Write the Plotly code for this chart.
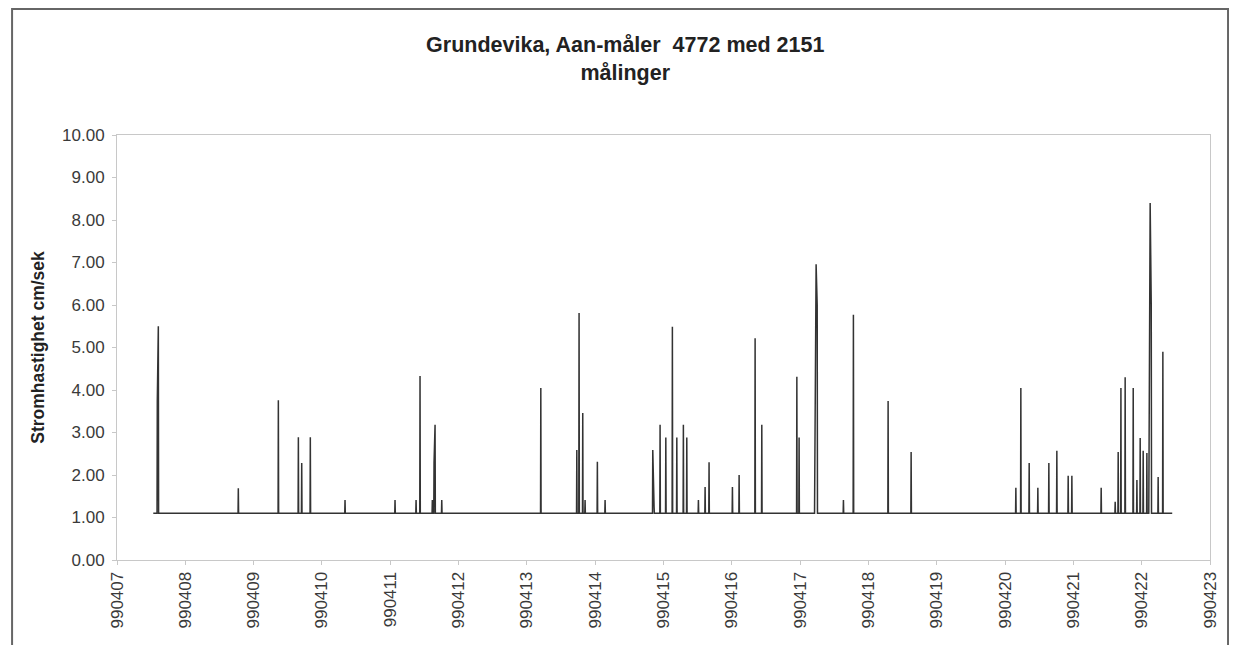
import plotly.graph_objects as go

# strømhastighet, Grundevika 990407-990422 (lest av figuren)
start_dag = 990407.531
slutt_dag = 990422.447
grunnverdi = 1.10

topp_dag = [
    990407.590, 990407.605, 990408.776, 990409.362, 990409.655, 990409.704,
    990409.830, 990410.338, 990411.070, 990411.378, 990411.436, 990411.616,
    990411.641, 990411.656, 990411.754, 990413.204, 990413.731, 990413.764,
    990413.818, 990413.852, 990414.032, 990414.145, 990414.843, 990414.862,
    990414.950, 990415.034, 990415.130, 990415.195, 990415.291, 990415.341,
    990415.511, 990415.609, 990415.667, 990416.009, 990416.107, 990416.341,
    990416.439, 990416.952, 990416.985, 990417.215, 990417.234, 990417.250,
    990417.634, 990417.780, 990418.288, 990418.625, 990420.158, 990420.231,
    990420.353, 990420.480, 990420.641, 990420.758, 990420.924, 990420.978,
    990421.407, 990421.612, 990421.656, 990421.696, 990421.758, 990421.876,
    990421.930, 990421.978, 990422.022, 990422.076, 990422.108, 990422.124,
    990422.140, 990422.241, 990422.310,
]
topp_verdi = [
    3.75, 5.50, 1.69, 3.76, 2.89, 2.28,
    2.89, 1.41, 1.41, 1.41, 4.33, 1.41,
    2.28, 3.18, 1.41, 4.05, 2.59, 5.81,
    3.46, 1.41, 2.31, 1.41, 2.59, 1.25,
    3.18, 2.88, 5.49, 2.88, 3.18, 2.88,
    1.41, 1.72, 2.30, 1.72, 2.00, 5.22,
    3.18, 4.31, 2.88, 2.40, 6.96, 6.00,
    1.41, 5.77, 3.74, 2.54, 1.70, 4.05,
    2.28, 1.70, 2.28, 2.57, 1.98, 1.98,
    1.70, 1.37, 2.54, 4.05, 4.30, 4.05,
    1.88, 2.87, 2.57, 2.52, 3.00, 8.40,
    6.02, 1.95, 4.90,
]

y_ticks = [0, 1, 2, 3, 4, 5, 6, 7, 8, 9, 10]
x_ticks = list(range(990407, 990424))

# bygg linja: tilbake til grunnverdi mellom toppene
t = [start_dag]
v = [grunnverdi]
forrige = None
for d, h in zip(topp_dag, topp_verdi):
    if forrige is None or d - forrige > 0.02:
        if forrige is not None:
            t.append(forrige + 0.004)
            v.append(grunnverdi)
        t.append(d - 0.004)
        v.append(grunnverdi)
    t.append(d)
    v.append(h)
    forrige = d
t.append(forrige + 0.004)
v.append(grunnverdi)
t.append(slutt_dag)
v.append(grunnverdi)

fig = go.Figure()
fig.add_trace(go.Scatter(x=t, y=v, mode='lines',
                         line=dict(color='#333333', width=1.5),
                         showlegend=False))

# siden har 8 px kant i nettleseren, derfor litt mindre marger
fig.update_layout(
    width=1237, height=645,
    margin=dict(l=109, r=35, t=127, b=93),
    paper_bgcolor='white',
    plot_bgcolor='white',
    font=dict(family='Liberation Sans, Arial, sans-serif', color='#333333'),
    title=dict(
        text='<b>Grundevika, Aan-måler  4772 med 2151<br>målinger</b>',
        x=0.499, xanchor='center', y=0.932, yanchor='top',
        font=dict(size=21.5, color='#222222')),
    xaxis=dict(range=[990407, 990423], tickvals=x_ticks,
               ticktext=[str(k) for k in x_ticks], tickangle=-90,
               showgrid=False, zeroline=False, showline=True,
               linecolor='#c8c8c8', linewidth=1, mirror=True,
               ticks='outside', ticklen=4, tickcolor='#c8c8c8',
               tickfont=dict(size=17, color='#3a3a3a')),
    yaxis=dict(range=[0, 10], tickvals=y_ticks, tickformat='.2f',
               title=dict(text='<b>Stromhastighet cm/sek</b>',
                          font=dict(size=17.5, color='#222222'), standoff=12),
               showgrid=False, zeroline=False, showline=True,
               linecolor='#c8c8c8', linewidth=1, mirror=True,
               ticks='outside', ticklen=4, tickcolor='#c8c8c8',
               ticklabelstandoff=4,
               tickfont=dict(size=17, color='#3a3a3a')),
)

# ytre ramme rundt diagrammet
fig.add_shape(type='rect', xref='paper', yref='paper',
              x0=-0.096, x1=1.0165, y0=-0.22, y1=1.2965,
              line=dict(color='#666666', width=2), layer='below')

fig.write_html("out.html")
